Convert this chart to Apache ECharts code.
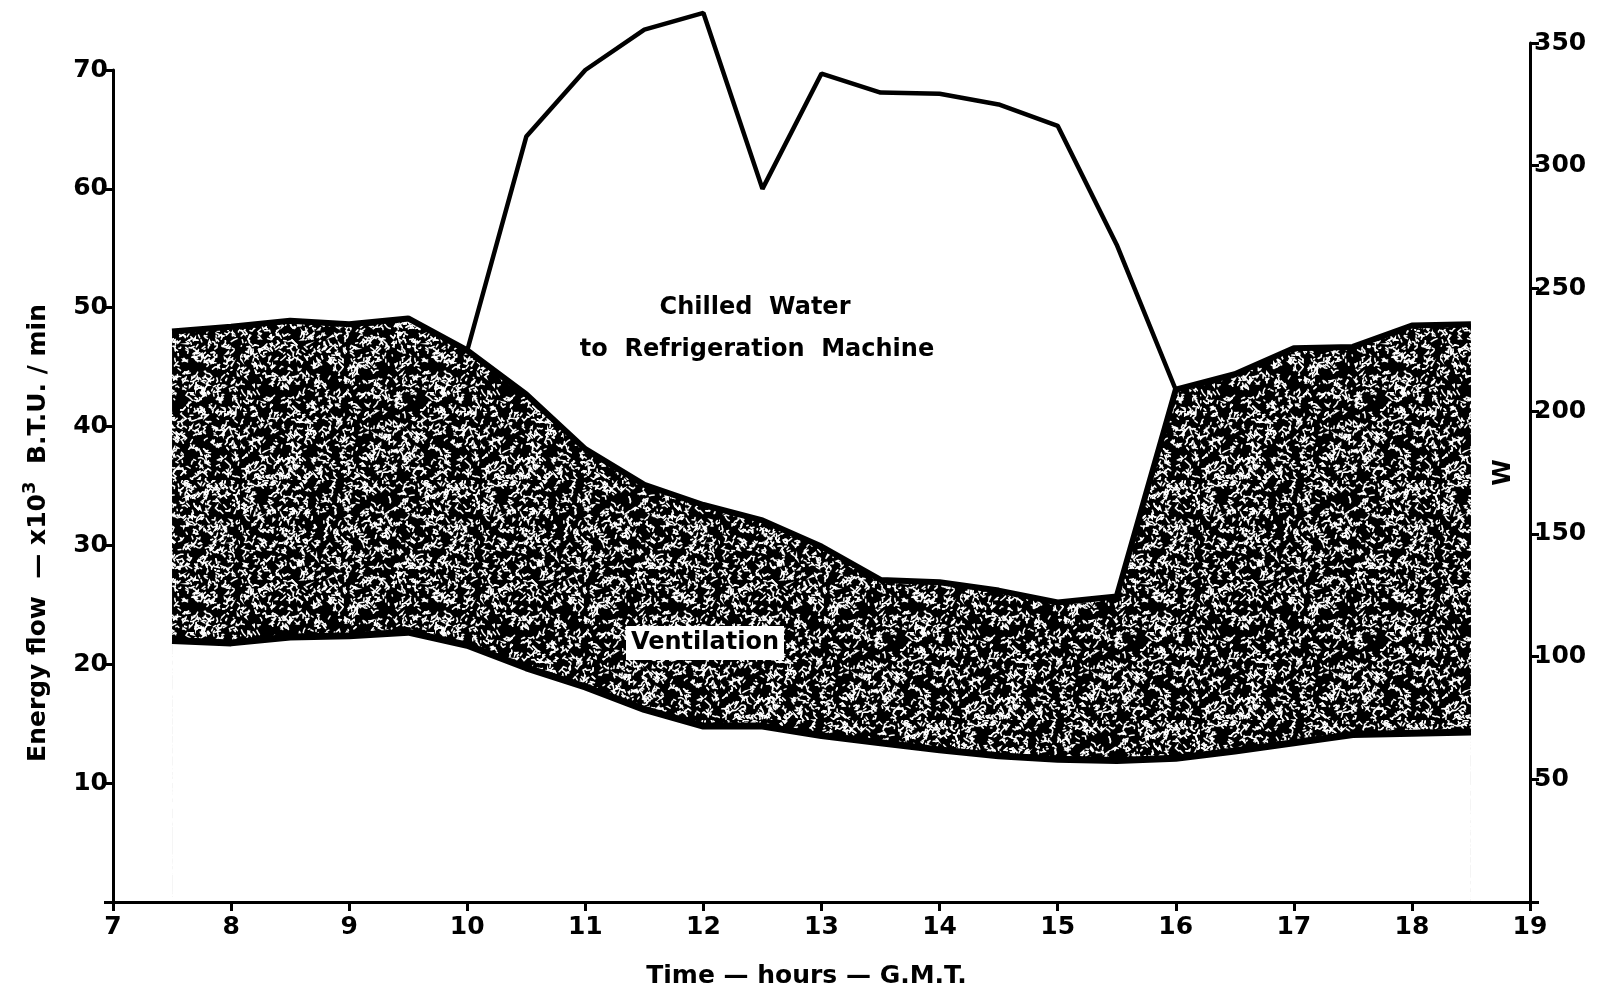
<!DOCTYPE html>
<html><head><meta charset="utf-8">
<script src="https://cdn.jsdelivr.net/npm/echarts@6/dist/echarts.min.js"></script>
<style>html,body{margin:0;padding:0;background:#fff}#c{width:1608px;height:995px}</style>
</head><body><div id="c"></div>
<script>
// ---- data ----
const hours = [7.5, 8, 8.5, 9, 9.5, 10, 10.5, 11, 11.5, 12, 12.5, 13, 13.5, 14, 14.5, 15, 15.5, 16, 16.5, 17, 17.5, 18, 18.5];
const fabric = [22.0, 21.8, 22.3, 22.4, 22.7, 21.6, 19.7, 18.1, 16.2, 14.8, 14.8, 14.0, 13.4, 12.8, 12.3, 12.0, 11.9, 12.1, 12.7, 13.4, 14.1, 14.2, 14.3];
const ventilationTop = [48.0, 48.4, 48.9, 48.6, 49.1, 46.4, 42.7, 38.1, 35.1, 33.4, 32.1, 29.9, 27.1, 26.9, 26.2, 25.2, 25.7, 43.1, 44.4, 46.6, 46.7, 48.5, 48.6];
const chilledHours = [10, 10.5, 11, 11.5, 12, 12.5, 13, 13.5, 14, 14.5, 15, 15.5, 16];
const chilledTotal = [46.4, 64.4, 70.0, 73.4, 74.8, 60.0, 69.7, 68.1, 68.0, 67.1, 65.3, 55.3, 43.1];
const leftTicks = [0, 10, 20, 30, 40, 50, 60, 70];
const rightTicks = [0, 50, 100, 150, 200, 250, 300, 350];

// ---- speckle texture for the ventilation band ----
function makeTexture() {
  const cv = document.createElement('canvas');
  cv.width = 240; cv.height = 240;
  const g = cv.getContext('2d');
  g.fillStyle = '#000'; g.fillRect(0, 0, 240, 240);
  let s = 12345;
  const rnd = () => { s = (s * 1103515245 + 12345) % 2147483648; return s / 2147483648; };
  g.strokeStyle = '#fff'; g.lineWidth = 1.5; g.lineCap = 'round';
  for (let i = 0; i < 2700; i++) {
    let x = rnd() * 240, y = rnd() * 240;
    g.beginPath(); g.moveTo(x, y);
    const n = 1 + Math.floor(rnd() * 3);
    for (let k = 0; k < n; k++) {
      x += (rnd() - 0.5) * 6; y += (rnd() - 0.5) * 6;
      g.lineTo(x, y);
    }
    g.stroke();
  }
  return cv;
}

const FONT = 'DejaVu Sans';
const lbl = { color: '#000', fontFamily: FONT, fontSize: 25, fontWeight: 'bold' };
const axisCommon = {
  axisLine: { show: true, lineStyle: { color: '#000', width: 3 } },
  axisTick: { show: true, length: 9, lineStyle: { color: '#000', width: 3 } },
  splitLine: { show: false },
  z: 20
};
const chart = echarts.init(document.getElementById('c'), null, { renderer: 'canvas' });

chart.setOption({
  animation: false,
  backgroundColor: '#fff',
  grid: [
    { left: 113, right: 78, top: 70, bottom: 93 },
    { left: 113, right: 78, top: 43, bottom: 93 }
  ],
  xAxis: [
    Object.assign({
      gridIndex: 0, type: 'value', min: 7, max: 19, interval: 1,
      name: 'Time — hours — G.M.T.', nameLocation: 'middle', nameGap: 62,
      nameTextStyle: Object.assign({}, lbl, { fontSize: 25, padding: [0, 30, 0, 0] }),
      axisLabel: Object.assign({}, lbl, { margin: 13 })
    }, axisCommon),
    { gridIndex: 1, type: 'value', min: 7, max: 19, show: false }
  ],
  yAxis: [
    Object.assign({
      gridIndex: 0, type: 'value', min: leftTicks[0], max: leftTicks[leftTicks.length - 1], interval: 10,
      name: 'Energy flow  — x10{sup|3}  B.T.U. / min', nameLocation: 'middle', nameGap: 58, nameRotate: 90,
      nameTextStyle: Object.assign({}, lbl, { fontSize: 25, padding: [0, 94, 0, 0],
        rich: { sup: { fontFamily: FONT, fontSize: 18, fontWeight: 'bold', verticalAlign: 'top', padding: [0, 0, 16, 0] } } }),
      axisLabel: Object.assign({}, lbl, { margin: 5, formatter: v => (v === 0 ? '' : String(v)) })
    }, axisCommon),
    Object.assign({
      gridIndex: 1, type: 'value', position: 'right', min: rightTicks[0], max: rightTicks[rightTicks.length - 1], interval: 50,
      name: 'W', nameLocation: 'middle', nameGap: -38, nameRotate: 90,
      nameTextStyle: Object.assign({}, lbl, { fontSize: 24 }),
      axisLabel: Object.assign({}, lbl, { margin: 4, formatter: v => (v === 0 ? '' : String(v)) })
    }, axisCommon)
  ],
  series: [
    {
      name: 'Ventilation', type: 'line', xAxisIndex: 0, yAxisIndex: 0,
      data: hours.map((h, i) => [h, ventilationTop[i]]),
      symbol: 'none', lineStyle: { color: '#000', width: 6 },
      areaStyle: { color: { image: makeTexture(), repeat: 'repeat' }, opacity: 1, origin: 'start' }, z: 3
    },
    {
      name: 'Fabric', type: 'line', xAxisIndex: 0, yAxisIndex: 0,
      data: hours.map((h, i) => [h, fabric[i]]),
      symbol: 'none', lineStyle: { color: '#000', width: 7 },
      areaStyle: { color: '#fff', opacity: 1, origin: 'start' },
      itemStyle: { borderColor: '#fff' }, z: 4
    },
    {
      name: 'Chilled Water', type: 'line', xAxisIndex: 0, yAxisIndex: 0, clip: false,
      data: chilledHours.map((h, i) => [h, chilledTotal[i]]),
      symbol: 'none', lineStyle: { color: '#000', width: 4.5 }, z: 5
    }
  ],
  graphic: [
    { type: 'text', x: 755, y: 308, style: { text: 'Chilled  Water', align: 'center', verticalAlign: 'middle', fill: '#000', font: 'bold 24px "DejaVu Sans"' } },
    { type: 'text', x: 757, y: 350, style: { text: 'to  Refrigeration  Machine', align: 'center', verticalAlign: 'middle', fill: '#000', font: 'bold 24px "DejaVu Sans"' } },
    { type: 'rect', shape: { x: 626, y: 626, width: 158, height: 34 }, style: { fill: '#fff' }, z: 10 },
    { type: 'text', x: 705, y: 643, z: 11, style: { text: 'Ventilation', align: 'center', verticalAlign: 'middle', fill: '#000', font: 'bold 24px "DejaVu Sans"' } },
    { type: 'text', x: 697, y: 812, style: { text: 'Fabric', align: 'center', verticalAlign: 'middle', fill: '#000', font: 'bold 24px "DejaVu Sans"' } }
  ]
});
</script></body></html>
